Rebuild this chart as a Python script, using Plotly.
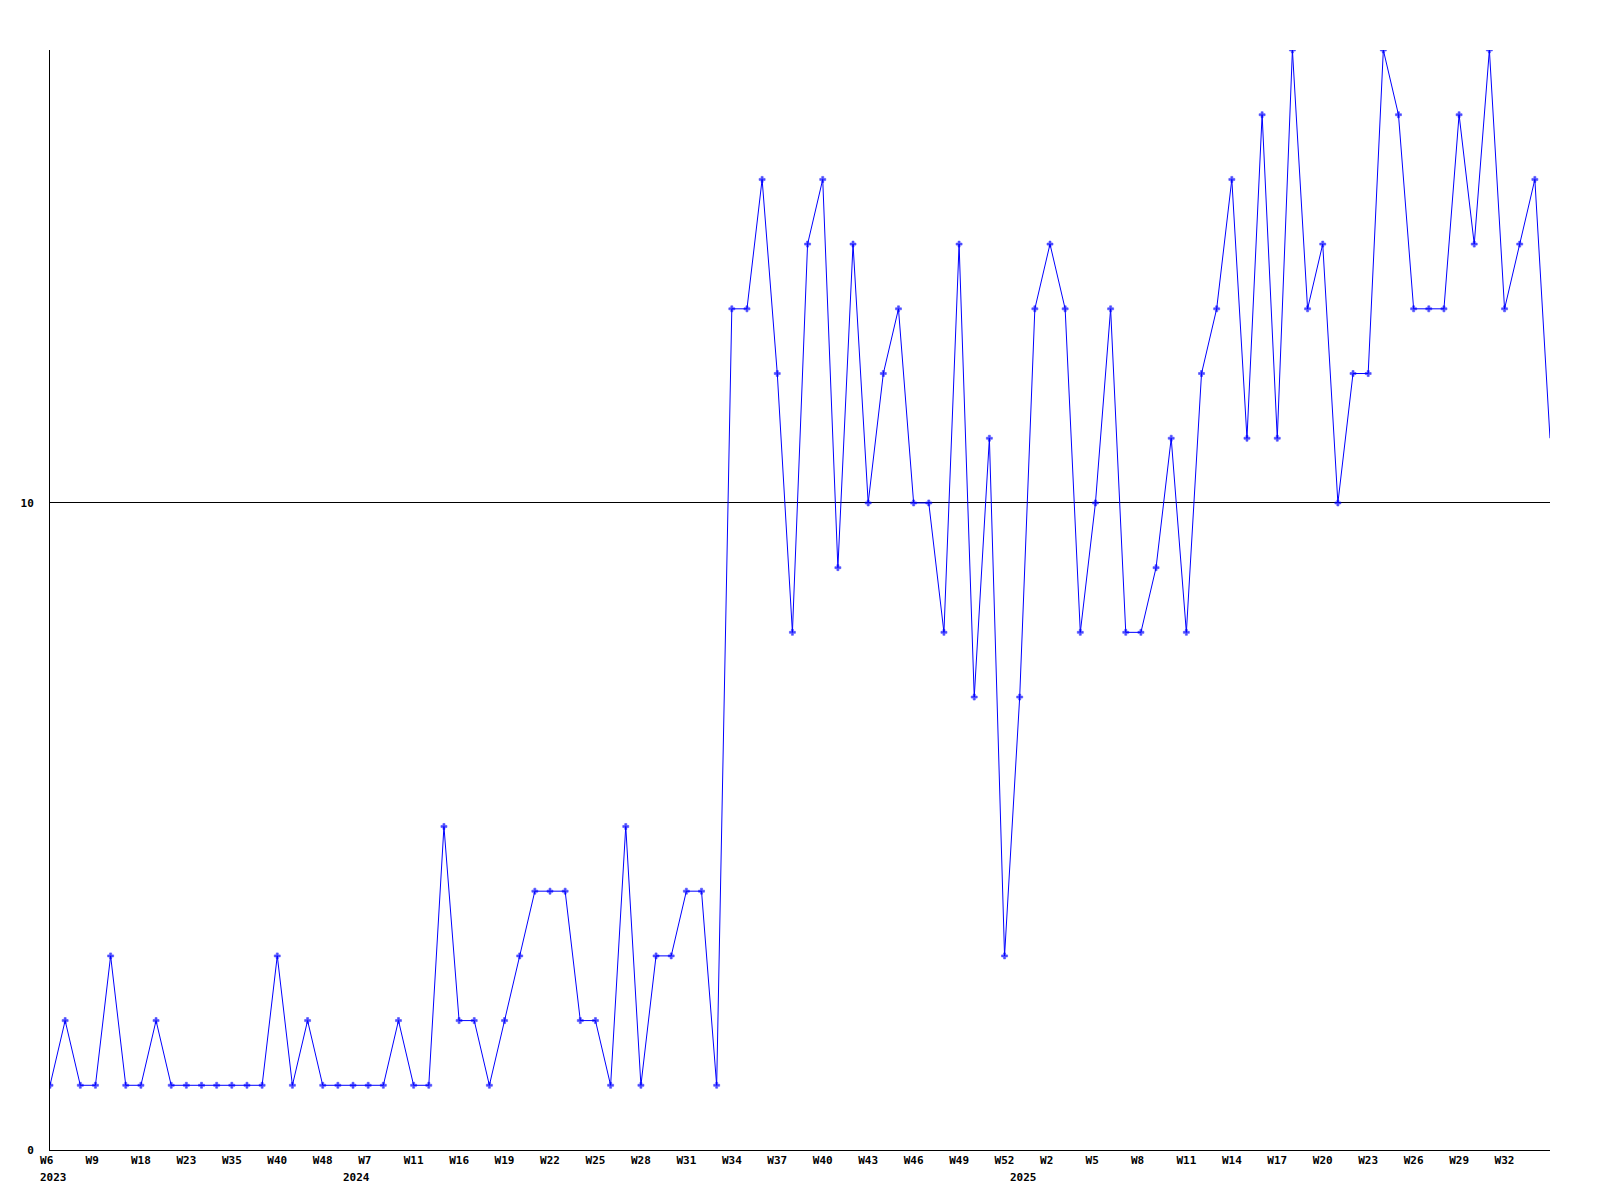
import plotly.graph_objects as go

# Weekly values (100 points, index 0..99)
values = [
    1, 2, 1, 1, 3, 1, 1, 2, 1, 1,
    1, 1, 1, 1, 1, 3, 1, 2, 1, 1,
    1, 1, 1, 2, 1, 1, 5, 2, 2, 1,
    2, 3, 4, 4, 4, 2, 2, 1, 5, 1,
    3, 3, 4, 4, 1, 13, 13, 15, 12, 8,
    14, 15, 9, 14, 10, 12, 13, 10, 10, 8,
    14, 7, 11, 3, 7, 13, 14, 13, 8, 10,
    13, 8, 8, 9, 11, 8, 12, 13, 15, 11,
    16, 11, 17, 13, 14, 10, 12, 12, 17, 16,
    13, 13, 13, 16, 14, 17, 13, 14, 15, 11,
]
x_index = list(range(len(values)))

# Axis labels (every third week)
tick_labels = ["W6", "W9", "W18", "W23", "W35", "W40", "W48", "W7", "W11", "W16",
               "W19", "W22", "W25", "W28", "W31", "W34", "W37", "W40", "W43", "W46",
               "W49", "W52", "W2", "W5", "W8", "W11", "W14", "W17", "W20", "W23",
               "W26", "W29", "W32"]
tick_positions = list(range(0, 3 * len(tick_labels), 3))
year_labels = ["2023", "2024", "2025"]
year_positions = [0, 20, 64]

y_ticks = [0, 10]

FONT = "DejaVu Sans Mono"

marker_sizes = [5] * (len(values) - 1) + [0]

fig = go.Figure()
fig.add_trace(go.Scatter(
    x=x_index, y=values, mode="lines+markers",
    line=dict(color="#0000ff", width=1),
    marker=dict(symbol="cross", size=marker_sizes, color="#0000ff",
                line=dict(width=0.6, color="#0000ff")),
    hoverinfo="skip", showlegend=False,
))

for lab, pos in zip(year_labels, year_positions):
    fig.add_annotation(x=pos, y=0, xref="x", yref="paper", text="<b>%s</b>" % lab,
                       showarrow=False, xanchor="left", yanchor="middle",
                       xshift=-11, yshift=-27, borderpad=0,
                       font=dict(family=FONT, size=11, color="black"))

fig.update_layout(
    width=1600, height=1200,
    margin=dict(l=50, r=50, t=50, b=50),
    plot_bgcolor="white", paper_bgcolor="white",
    font=dict(family=FONT, size=11, color="black"),
)
fig.update_xaxes(
    range=[0, len(values) - 1], showgrid=False, zeroline=False,
    showline=True, linecolor="black", linewidth=1,
    tickmode="array", tickvals=tick_positions,
    ticktext=["<b>%s</b>" % (t + "\u00a0" * (3 - len(t))) for t in tick_labels],
    ticks="", tickfont=dict(family=FONT, size=11, color="black"),
    fixedrange=True,
)
fig.update_yaxes(
    range=[0, 17], showgrid=True, gridcolor="black", gridwidth=1,
    zeroline=False, showline=True, linecolor="black", linewidth=1,
    tickmode="array", tickvals=y_ticks, ticktext=["<b>%d</b>" % v for v in y_ticks],
    ticks="", ticklabelstandoff=13, tickfont=dict(family=FONT, size=11, color="black"),
    fixedrange=True,
)

fig.write_html("out.html", config={"displayModeBar": False, "staticPlot": True},
               post_script="document.body.style.margin='0';")
